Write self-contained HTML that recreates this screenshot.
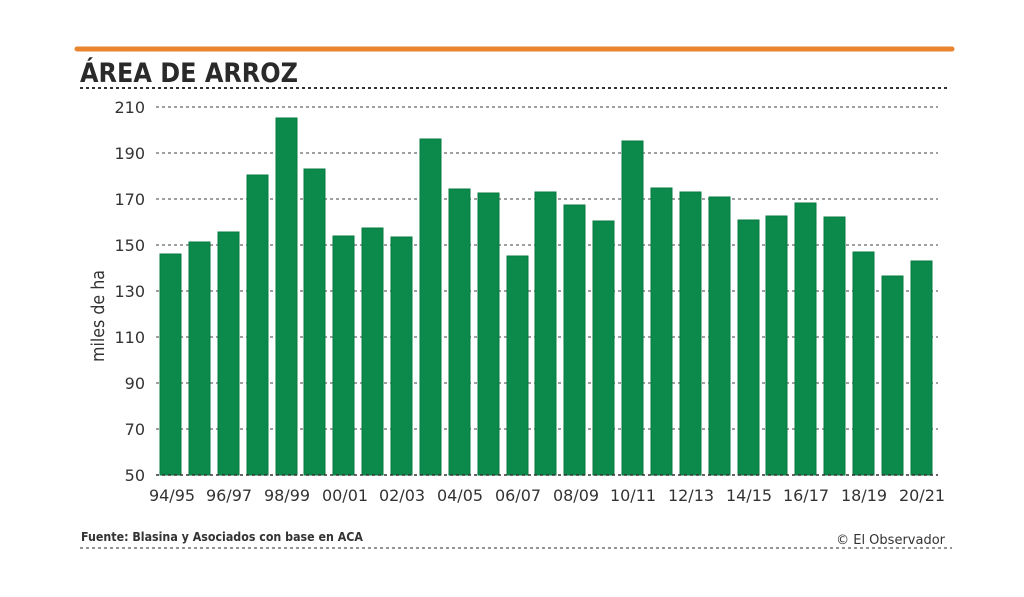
<!DOCTYPE html>
<html><head><meta charset="utf-8"><style>
html,body{margin:0;padding:0;background:#fff;}
svg{display:block;font-family:"DejaVu Sans","Liberation Sans",sans-serif;}
</style></head><body>
<svg width="1024" height="597" viewBox="0 0 1024 597" xmlns="http://www.w3.org/2000/svg">
<rect width="1024" height="597" fill="#fff"/>
<line x1="77" y1="49" x2="952" y2="49" stroke="#e8852e" stroke-width="5" stroke-linecap="round"/>
<text x="80" y="82" font-size="27" font-weight="bold" fill="#2a2a2a" textLength="218" lengthAdjust="spacingAndGlyphs">ÁREA DE ARROZ</text>
<line x1="80" y1="88" x2="948" y2="88" stroke="#333" stroke-width="2" stroke-dasharray="3,3"/>
<g stroke="#666" stroke-width="1.2" stroke-dasharray="3,3">
<line x1="156" y1="107" x2="938" y2="107"/>
<line x1="156" y1="153" x2="938" y2="153"/>
<line x1="156" y1="199" x2="938" y2="199"/>
<line x1="156" y1="245" x2="938" y2="245"/>
<line x1="156" y1="291" x2="938" y2="291"/>
<line x1="156" y1="337" x2="938" y2="337"/>
<line x1="156" y1="383" x2="938" y2="383"/>
<line x1="156" y1="429" x2="938" y2="429"/>
</g>
<g font-size="16" fill="#333" text-anchor="end">
<text x="145" y="113">210</text><text x="145" y="159">190</text><text x="145" y="205">170</text>
<text x="145" y="251">150</text><text x="145" y="297">130</text><text x="145" y="343">110</text>
<text x="145" y="389">90</text><text x="145" y="435">70</text><text x="145" y="481">50</text>
</g>
<text transform="translate(104,316) rotate(-90)" font-size="18" fill="#333" text-anchor="middle" textLength="92" lengthAdjust="spacingAndGlyphs">miles de ha</text>
<g fill="#0b8a4c" stroke="#077a40" stroke-width="1">
<rect x="160" y="254" width="21" height="221"/>
<rect x="189" y="242" width="21" height="233"/>
<rect x="218" y="232" width="21" height="243"/>
<rect x="247" y="175" width="21" height="300"/>
<rect x="276" y="118" width="21" height="357"/>
<rect x="304" y="169" width="21" height="306"/>
<rect x="333" y="236" width="21" height="239"/>
<rect x="362" y="228" width="21" height="247"/>
<rect x="391" y="237" width="21" height="238"/>
<rect x="420" y="139" width="21" height="336"/>
<rect x="449" y="189" width="21" height="286"/>
<rect x="478" y="193" width="21" height="282"/>
<rect x="507" y="256" width="21" height="219"/>
<rect x="535" y="192" width="21" height="283"/>
<rect x="564" y="205" width="21" height="270"/>
<rect x="593" y="221" width="21" height="254"/>
<rect x="622" y="141" width="21" height="334"/>
<rect x="651" y="188" width="21" height="287"/>
<rect x="680" y="192" width="21" height="283"/>
<rect x="709" y="197" width="21" height="278"/>
<rect x="738" y="220" width="21" height="255"/>
<rect x="766" y="216" width="21" height="259"/>
<rect x="795" y="203" width="21" height="272"/>
<rect x="824" y="217" width="21" height="258"/>
<rect x="853" y="252" width="21" height="223"/>
<rect x="882" y="276" width="21" height="199"/>
<rect x="911" y="261" width="21" height="214"/>
</g>
<line x1="156" y1="475" x2="938" y2="475" stroke="#333" stroke-width="1.5" stroke-dasharray="3,3"/>
<g font-size="16" fill="#333" text-anchor="middle">
<text x="172" y="501">94/95</text><text x="229" y="501">96/97</text><text x="287" y="501">98/99</text>
<text x="345" y="501">00/01</text><text x="402" y="501">02/03</text><text x="460" y="501">04/05</text>
<text x="518" y="501">06/07</text><text x="576" y="501">08/09</text><text x="633" y="501">10/11</text>
<text x="691" y="501">12/13</text><text x="749" y="501">14/15</text><text x="806" y="501">16/17</text>
<text x="864" y="501">18/19</text><text x="922" y="501">20/21</text>
</g>
<text x="81" y="541" font-size="12.5" fill="#333" font-weight="bold" textLength="282" lengthAdjust="spacingAndGlyphs">Fuente: Blasina y Asociados con base en ACA</text>
<text x="945" y="544" font-size="13" fill="#333" text-anchor="end">© El Observador</text>
<line x1="80" y1="548" x2="952" y2="548" stroke="#555" stroke-width="1.2" stroke-dasharray="3,3"/>
</svg>
</body></html>
